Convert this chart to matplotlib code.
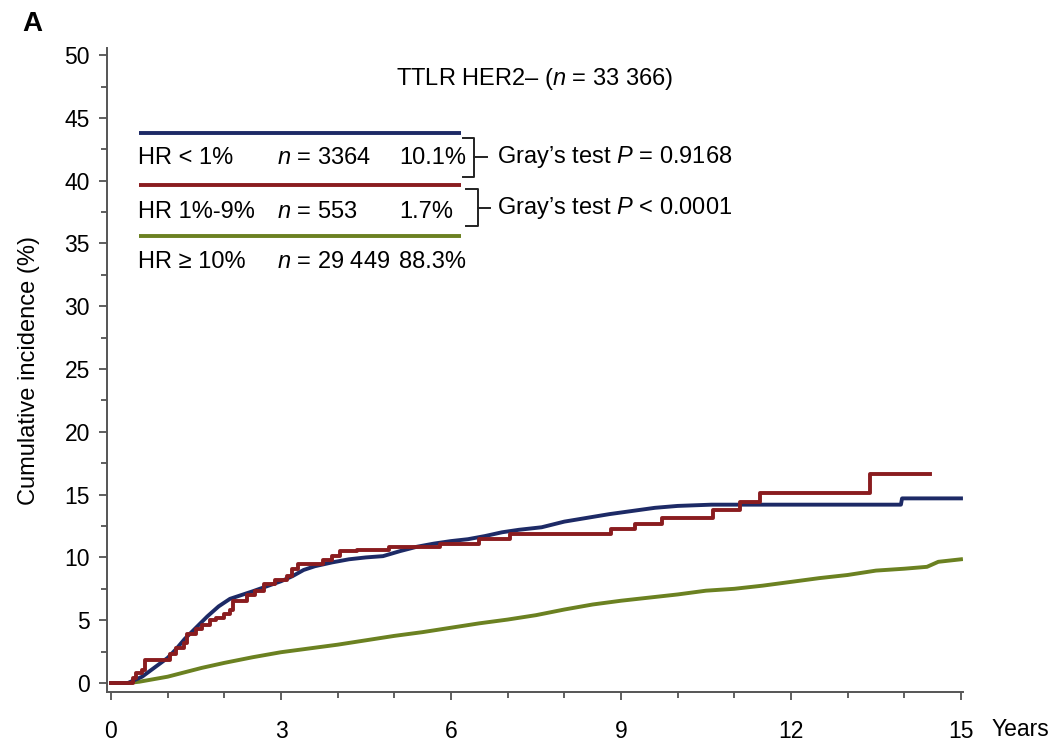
import matplotlib
matplotlib.use("Agg")
import matplotlib.pyplot as plt
from matplotlib.ticker import MultipleLocator

plt.rcParams['font.family'] = ['Liberation Sans', 'DejaVu Sans']
plt.rcParams['mathtext.fontset'] = 'custom'
plt.rcParams['mathtext.rm'] = 'Liberation Sans'
plt.rcParams['mathtext.it'] = 'Liberation Sans:italic'

# curves (years, cumulative incidence %)
blue_x = [0, 0.3, 0.4, 0.55, 0.7, 0.85, 1.0, 1.15, 1.3, 1.5, 1.7, 1.9, 2.1, 2.3, 2.5, 2.75,
          3.0, 3.2, 3.4, 3.6, 3.9, 4.2, 4.5, 4.8, 5.1, 5.4, 5.7, 6.0, 6.3, 6.6, 6.9, 7.2,
          7.6, 8.0, 8.4, 8.8, 9.2, 9.6, 10.0, 10.6, 13.94, 13.96, 15.0]
blue_y = [0, 0, 0.2, 0.5, 1.0, 1.5, 2.0, 2.7, 3.5, 4.4, 5.3, 6.1, 6.7, 7.0, 7.3, 7.7,
          8.1, 8.5, 9.0, 9.3, 9.6, 9.85, 10.0, 10.1, 10.5, 10.85, 11.1, 11.3, 11.45, 11.7, 12.0, 12.2,
          12.4, 12.85, 13.15, 13.45, 13.7, 13.95, 14.1, 14.2, 14.2, 14.7, 14.7]

red_x = [0, 0.3, 0.38, 0.45, 0.55, 0.6, 0.95, 1.05, 1.15, 1.28, 1.35, 1.5, 1.6, 1.75, 1.85,
         2.0, 2.1, 2.15, 2.35, 2.4, 2.55, 2.7, 2.9, 3.1, 3.2, 3.3, 3.55, 3.75, 3.9, 4.05,
         4.35, 4.9, 5.8, 6.5, 7.04, 8.83, 9.25, 9.72, 10.63, 11.1, 11.45, 13.4, 14.45]
red_y = [0, 0, 0.4, 0.8, 1.0, 1.8, 1.8, 2.3, 2.8, 3.2, 3.9, 4.3, 4.6, 5.0, 5.2,
         5.5, 5.8, 6.5, 6.5, 7.0, 7.3, 7.9, 8.2, 8.5, 9.1, 9.5, 9.5, 9.8, 10.1, 10.5,
         10.6, 10.85, 11.1, 11.5, 11.9, 12.25, 12.65, 13.1, 13.8, 14.45, 15.15, 16.65, 16.65]

green_x = [0, 0.3, 0.5, 0.75, 1.0, 1.3, 1.6, 2.0, 2.5, 3.0, 3.5, 4.0, 4.5, 5.0, 5.5, 6.0,
           6.5, 7.0, 7.5, 8.0, 8.5, 9.0, 9.5, 10.0, 10.5, 11.0, 11.5, 12.0, 12.5, 13.0,
           13.5, 14.0, 14.4, 14.6, 15.0]
green_y = [0, 0, 0.1, 0.3, 0.5, 0.85, 1.2, 1.6, 2.05, 2.45, 2.75, 3.05, 3.4, 3.75, 4.05, 4.4,
           4.75, 5.05, 5.4, 5.85, 6.25, 6.55, 6.8, 7.05, 7.35, 7.5, 7.75, 8.05, 8.35, 8.6,
           8.95, 9.1, 9.25, 9.65, 9.85]

groups = ['HR < 1%', 'HR 1%-9%', 'HR \u2265 10%']
counts = ['3364', '553', '29 449']
shares = ['10.1%', '1.7%', '88.3%']
pvals = ['Gray\u2019s test $\\it{P}$ = 0.9168', 'Gray\u2019s test $\\it{P}$ < 0.0001']

blue = '#1d2a66'
red = '#8a1c1f'
green = '#6b8121'
colors = [blue, red, green]

fs = 17
fig = plt.figure(figsize=(10.53, 7.41), dpi=100)
ax = fig.add_axes([0.1013, 0.0661, 0.8132, 0.869])

lw = 2.8
ax.plot(green_x, green_y, color=green, lw=lw)
ax.plot(blue_x, blue_y, color=blue, lw=lw)
ax.plot(red_x, red_y, color=red, lw=lw, drawstyle='steps-post')

ax.set_xlim(-0.076, 15.035)
ax.set_ylim(-0.72, 50.56)
ax.xaxis.set_major_locator(MultipleLocator(3))
ax.xaxis.set_minor_locator(MultipleLocator(1))
ax.yaxis.set_major_locator(MultipleLocator(5))
ax.yaxis.set_minor_locator(MultipleLocator(2.5))
ax.tick_params(which='major', direction='out', length=6, width=1.2, color='#444444',
               labelsize=16.5)
ax.tick_params(which='minor', direction='out', length=4.5, width=1.2, color='#444444')
ax.tick_params(axis='x', which='major', pad=14)
ax.tick_params(axis='y', which='major', pad=6)
for s in ['top', 'right']:
    ax.spines[s].set_visible(False)
for s in ['left', 'bottom']:
    ax.spines[s].set_color('#555555')
    ax.spines[s].set_linewidth(1.4)

ax.set_ylabel('Cumulative incidence (%)', fontsize=fs, labelpad=18)
fig.text(992 / 1053, 1 - 729 / 741, 'Years', fontsize=16.5, ha='left', va='center')
ax.text(7.48, 48.1, 'TTLR HER2\u2013 ($\\it{n}$ = 33 366)', fontsize=fs, ha='center', va='center')
fig.text(0.021, 0.985, 'A', fontsize=20, fontweight='bold', ha='left', va='top')

# legend block
line_y = [43.8, 39.65, 35.6]
text_y = [41.8, 37.5, 33.5]
for i in range(3):
    ax.plot([0.5, 6.18], [line_y[i], line_y[i]], color=colors[i], lw=lw, solid_capstyle='butt')
    ax.text(0.47, text_y[i], groups[i], fontsize=fs, va='center')
    ax.text(2.93, text_y[i], '$\\it{n}$ = ' + counts[i], fontsize=fs, va='center')
    ax.text(5.08, text_y[i], shares[i], fontsize=fs, va='center')

brk_x = [6.41, 6.47]
brk_top = [43.4, 39.3]
brk_bot = [40.3, 36.4]
for i in range(2):
    bx = brk_x[i]
    ax.plot([bx - 0.2, bx, bx, bx - 0.2], [brk_top[i], brk_top[i], brk_bot[i], brk_bot[i]],
            color='#222222', lw=1.4)
    mid = (brk_top[i] + brk_bot[i]) / 2
    ax.plot([bx, bx + 0.22], [mid, mid], color='#222222', lw=1.4)
    ax.text(6.81, mid, pvals[i], fontsize=fs, va='center')

fig.savefig('out.png', dpi=100)
